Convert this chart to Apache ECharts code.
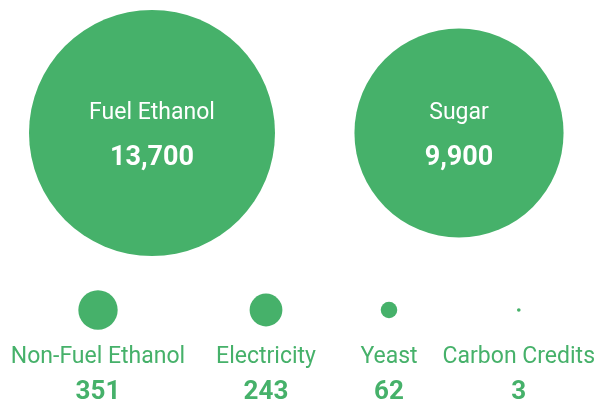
<!DOCTYPE html>
<html lang="en">
<head>
    <meta charset="UTF-8">
    <title>Bubbles</title>
    <script src="https://cdn.jsdelivr.net/npm/echarts@6/dist/echarts.min.js"></script>
</head>
<style>
    html, body { margin: 0; padding: 0; background: #fff; }
    #main { width: 598px; height: 405px; }
</style>
<body>
<div id="main"></div>
<script>
    // data
    var bigNames = ['Fuel Ethanol', 'Sugar'];
    var bigValues = [13700, 9900];
    var smallNames = ['Non-Fuel Ethanol', 'Electricity', 'Yeast', 'Carbon Credits'];
    var smallValues = [351, 243, 62, 3];

    // layout (centre x of each bubble slot)
    var bigX = [152, 459];
    var smallX = [98, 266, 389, 520];

    var green = '#46b16a';
    var font = 'Roboto';
    var maxV = 13700, maxD = 246;
    function size(v) { return maxD * Math.sqrt(v / maxV); }
    function fmt(v) { return v.toLocaleString('en-US'); }

    var grids = [], xAxes = [], yAxes = [], series = [];

    function addSlot(name, value, cx, cy, big) {
        var i = grids.length;
        grids.push({ left: cx - 20, top: cy - 20, width: 40, height: 40 });
        xAxes.push({
            gridIndex: i, type: 'category', data: [name],
            axisLine: { show: false }, axisTick: { show: false },
            axisLabel: big ? { show: false } : {
                margin: 10,
                interval: 0,
                formatter: function () { return '{n|' + name + '}\n{v|' + fmt(value) + '}'; },
                rich: {
                    n: { color: green, fontFamily: font, fontSize: 23, lineHeight: 34 },
                    v: { color: green, fontFamily: font, fontSize: 26, fontWeight: 'bold', lineHeight: 36 }
                }
            }
        });
        yAxes.push({ gridIndex: i, type: 'category', data: [''], show: false });
        series.push({
            type: 'scatter', xAxisIndex: i, yAxisIndex: i,
            symbol: 'circle',
            symbolSize: function (d) { return size(d[2]); },
            itemStyle: { color: green, opacity: 1 },
            data: [[name, '', value]],
            label: big ? {
                show: true, position: 'inside', offset: [0, 3],
                formatter: function () { return '{n|' + name + '}\n{v|' + fmt(value) + '}'; },
                rich: {
                    n: { color: '#fff', fontFamily: font, fontSize: 23, lineHeight: 45 },
                    v: { color: '#fff', fontFamily: font, fontSize: 27, fontWeight: 'bold', lineHeight: 45 }
                }
            } : { show: false },
            silent: true
        });
    }

    for (var i = 0; i < bigNames.length; i++) addSlot(bigNames[i], bigValues[i], bigX[i], 133, true);
    for (var j = 0; j < smallNames.length; j++) addSlot(smallNames[j], smallValues[j], smallX[j], 310, false);

    var myChart = echarts.init(document.getElementById('main'));
    myChart.setOption({
        animation: false,
        grid: grids,
        xAxis: xAxes,
        yAxis: yAxes,
        series: series
    });
</script>
</body>
</html>
